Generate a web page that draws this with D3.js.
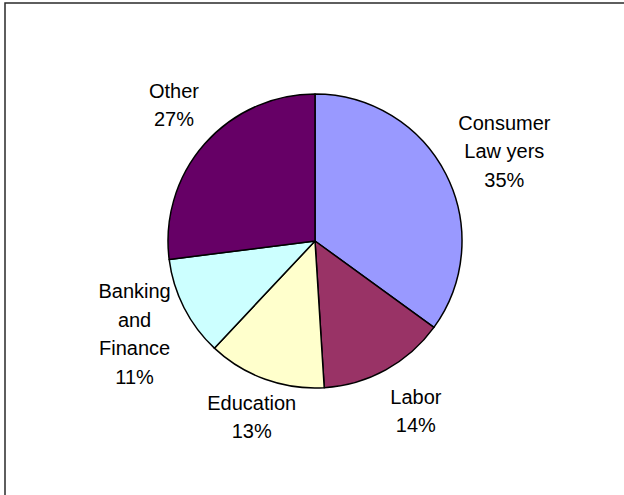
<!DOCTYPE html>
<html>
<head>
<meta charset="utf-8">
<script src="https://cdn.jsdelivr.net/npm/d3@7"></script>
<style>
  html, body { margin: 0; padding: 0; background: #fff; }
  svg { display: block; }
  text { font-family: "Liberation Sans", Arial, sans-serif; font-size: 20px; fill: #000; }
</style>
</head>
<body>
<svg id="chart" width="624" height="495"></svg>
<script>
// ---- data ----
const categories = ["Consumer Lawyers", "Labor", "Education", "Banking and Finance", "Other"];
const labelLines = [["Consumer", "Law yers"], ["Labor"], ["Education"], ["Banking", "and", "Finance"], ["Other"]];
const values = [35, 14, 13, 11, 27];
const colors = ["#9999FF", "#993366", "#FFFFCC", "#CCFFFF", "#660066"];

// ---- layout ----
const W = 624, H = 495;
const cx = 315, cy = 241, radius = 147;
const labelGap = 16;
const lineH = 28.5, capH = 14.5;
// small manual label nudges (layout only), in category order
const labelNudge = [[3, 0], [10, 8], [7, 2], [-3, -4], [0, -14]];

const svg = d3.select("#chart");

// chart frame (extends past right/bottom edges like the reference)
svg.append("rect")
  .attr("x", 5).attr("y", 3)
  .attr("width", 700).attr("height", 600)
  .attr("fill", "none")
  .attr("stroke", "#2a2a2a")
  .attr("stroke-width", 1.5);

const pie = d3.pie().sort(null).value(d => d).startAngle(0).endAngle(2 * Math.PI);
const arcs = pie(values);
const arc = d3.arc().innerRadius(0).outerRadius(radius);

const g = svg.append("g").attr("transform", `translate(${cx},${cy})`);

g.selectAll("path.slice")
  .data(arcs)
  .join("path")
  .attr("class", "slice")
  .attr("d", arc)
  .attr("fill", (d, i) => colors[i])
  .attr("stroke", "#000")
  .attr("stroke-width", 1.5)
  .attr("stroke-linejoin", "round");

const total = d3.sum(values);
const fmt = v => Math.round(v / total * 100) + "%";

arcs.forEach((d, i) => {
  const lines = labelLines[i].concat([fmt(d.value)]);
  const theta = (d.startAngle + d.endAngle) / 2;
  const t = g.append("text").attr("text-anchor", "middle");
  lines.forEach((ln, k) => {
    t.append("tspan").attr("x", 0).attr("dy", k === 0 ? 0 : lineH).text(ln);
  });
  let w = 0;
  t.selectAll("tspan").each(function () { w = Math.max(w, this.getComputedTextLength()); });
  const h = capH + (lines.length - 1) * lineH;
  const R = radius + labelGap;
  const ax = R * Math.sin(theta), ay = -R * Math.cos(theta);
  const bx = ax + Math.sin(theta) * w / 2 + labelNudge[i][0];
  const by = ay - Math.cos(theta) * h / 2 + labelNudge[i][1];
  const firstBase = by - h / 2 + capH;
  t.attr("transform", `translate(${bx},${firstBase})`);
});
</script>
</body>
</html>
